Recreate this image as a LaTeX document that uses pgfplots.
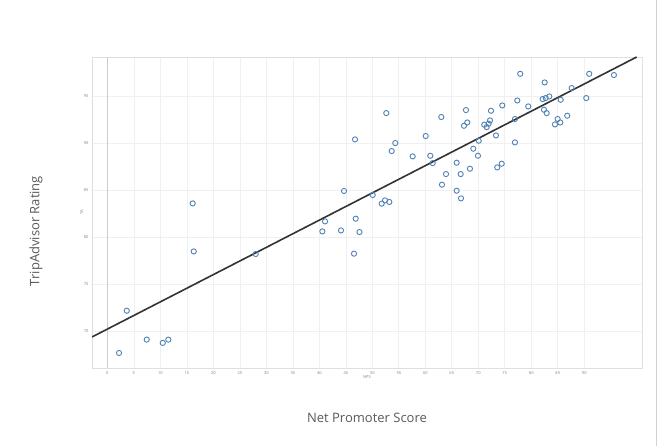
\documentclass[border=0pt]{standalone}
\usepackage{pgfplots}
\pgfplotsset{compat=1.18}
\usepackage{fontspec}
\setmainfont{Open Sans}
\definecolor{ptblue}{RGB}{80,130,180}
\definecolor{labgray}{RGB}{90,90,90}
\begin{document}
\begin{tikzpicture}[x=1pt,y=1pt]
\useasboundingbox (0,0) rectangle (663,446);
\fill[white] (0,0) rectangle (663,446);
\draw[gray!35,line width=1pt] (656,0) -- (656,446);
\begin{axis}[
    at={(92pt,78pt)}, anchor=south west,
    width=550pt, height=311pt, scale only axis,
    xmin=-2.9, xmax=100.9,
    ymin=66.1, ymax=99.2,
    xtick={0,5,...,90},
    ytick={70,75,...,95},
    tick style={draw=none},
    ticklabel style={font=\fontsize{4}{5}\selectfont, text=gray},
    /pgf/number format/assume math mode=true,
    grid=major,
    major grid style={gray!12, line width=0.6pt},
    axis line style={gray!25},
    xlabel={NPS}, ylabel={TA},
    label style={font=\fontsize{4}{5}\selectfont, text=gray},
    xlabel style={yshift=6pt},
    ylabel style={yshift=-6pt},
    clip=true,
]
\draw[gray!40, line width=0.6pt] (axis cs:0,66.1) -- (axis cs:0,99.2);
\addplot[only marks, mark=o, mark size=2.6pt, draw=ptblue, line width=0.9pt] coordinates {
(2.2,67.7) (3.66,72.2) (7.43,69.12) (10.45,68.77) (11.5,69.12)
(16.1,83.62) (16.3,78.51) (28.0,78.23) (40.57,80.64) (41.08,81.70)
(44.09,80.74) (44.66,84.94) (46.74,90.43) (46.87,81.99) (47.58,80.57)
(46.55,78.27) (50.08,84.51) (51.77,83.59) (52.40,83.94) (53.21,83.77)
(52.64,93.23) (53.66,89.19) (54.34,90.04) (57.62,88.62) (60.08,90.79)
(60.94,88.69) (61.40,87.91) (63.02,92.81) (63.15,85.61) (63.91,86.74)
(65.92,87.95) (65.92,84.97) (66.68,86.74) (66.74,84.15) (67.30,91.88)
(67.68,93.55) (67.92,92.23) (68.43,87.31) (69.06,89.44) (69.94,88.69)
(70.08,90.29) (71.13,91.99) (71.58,91.74) (71.96,92.10) (72.21,92.45)
(72.40,93.48) (73.34,90.85) (73.58,87.45) (74.42,87.84) (74.53,94.04)
(76.92,92.60) (76.92,90.11) (77.36,94.57) (77.92,97.41) (79.43,93.94)
(82.15,94.72) (82.40,93.59) (82.53,96.49) (82.72,94.83) (82.91,93.23)
(83.40,95.00) (84.47,92.02) (84.98,92.60) (85.47,92.23) (85.55,94.65)
(86.79,92.95) (87.62,95.89) (90.38,94.83) (90.94,97.41) (95.60,97.28)
};
\addplot[draw=black!80, line width=1.6pt] coordinates {(-2.9,69.4) (99.9,99.2)};
\end{axis}
\node[rotate=90, text=labgray, font=\fontsize{13}{15}\selectfont] at (36,215) {TripAdvisor Rating};
\node[text=labgray, font=\fontsize{13}{15}\selectfont] at (367,28) {Net Promoter Score};
\end{tikzpicture}
\end{document}
